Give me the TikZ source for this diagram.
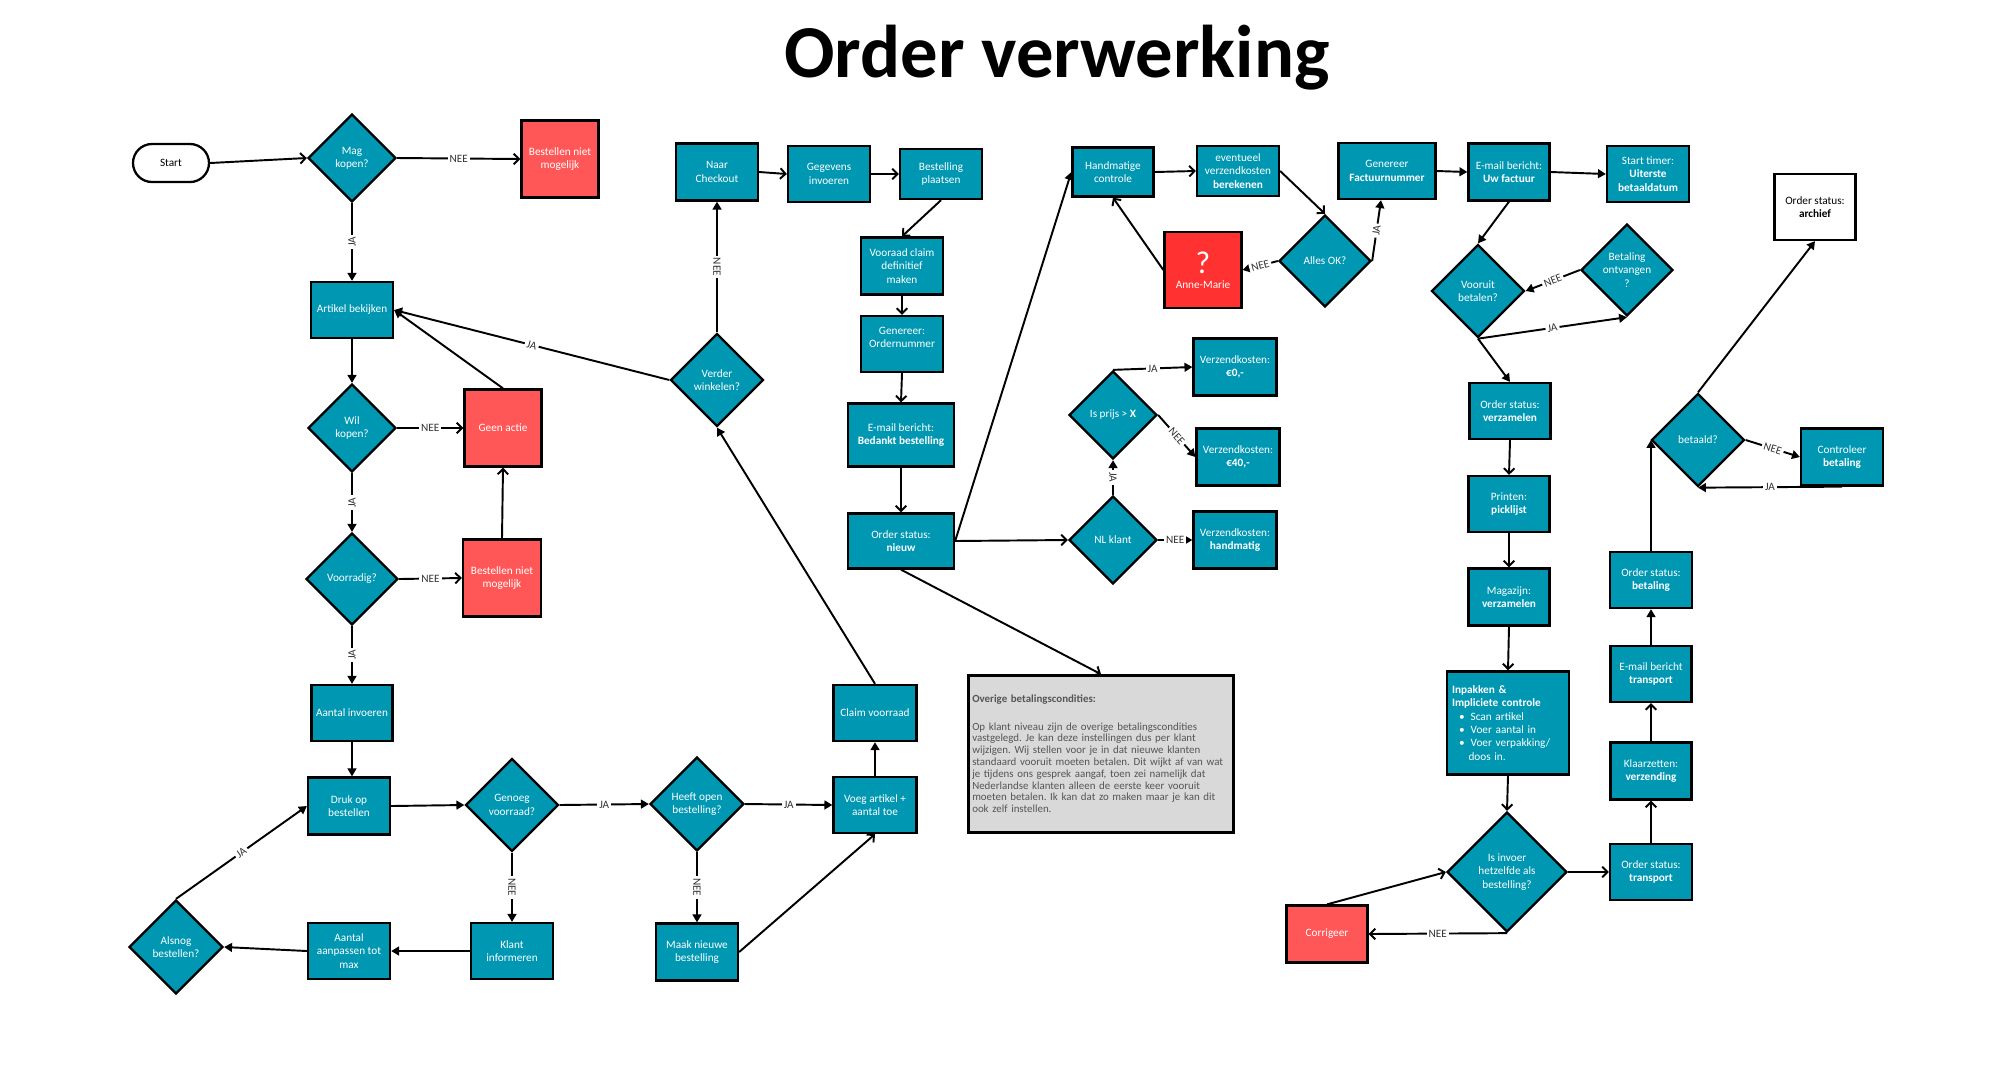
\documentclass[tikz,border=0pt]{standalone}
\usepackage{fontspec}
\setmainfont{Carlito}
\usetikzlibrary{shapes.geometric,arrows.meta}
\definecolor{flowteal}{RGB}{0,151,178}
\definecolor{flowred}{RGB}{255,87,87}
\definecolor{alertred}{RGB}{255,49,49}
\definecolor{notegray}{RGB}{217,217,217}
\definecolor{notetext}{RGB}{85,85,85}
\newcommand{\boxfont}{\fontsize{6.4}{7.6}\selectfont}
\frenchspacing
\tikzset{
  proc/.style={draw, line width=1.3pt, fill=flowteal, text=white, align=center, inner sep=1pt, font=\boxfont},
  nogo/.style={proc, fill=flowred},
  decision/.style={diamond, draw, line width=1.3pt, fill=flowteal, text=white, align=center, inner sep=0pt, font=\boxfont},
  sz/.style 2 args={minimum width=#1*0.2mm, minimum height=#2*0.2mm},
  dsz/.style={minimum width=#1*0.2mm, minimum height=#1*0.2mm},
  lbl/.style={fill=white, inner sep=1.2pt, text=black!80, font=\boxfont},
  arr/.style={line width=1.1pt, -{Triangle[length=4.5pt,width=5pt]}},
  barb/.style={line width=1.1pt, -{Straight Barb[length=3pt,width=6pt]}},
}

\begin{document}
\begin{tikzpicture}[x=0.2mm, y=-0.2mm]
\fill[white] (0,0) rectangle (2000,1073);
\useasboundingbox (0,0) rectangle (2000,1073);

\node[font=\fontsize{42.5}{42.5}\selectfont\bfseries, anchor=base] (title) at (1057,77) {Order verwerking};

% klant kant
\node[draw, line width=1.3pt, rounded corners=3.8mm, sz={76}{38}, font=\boxfont] (start) at (171,163) {Start};
\node[decision, dsz=88] (mag) at (352,158) {Mag\\kopen?};
\node[nogo, sz={77}{77}] (nietA) at (560,159) {Bestellen niet\\mogelijk};
\node[proc, sz={82}{56}] (artikel) at (352,310) {Artikel bekijken};
\node[decision, dsz=88] (wil) at (352,428) {Wil\\kopen?};
\node[nogo, sz={77}{77}] (geen) at (503,428) {Geen actie};
\node[decision, dsz=92] (voorradig) at (352,579) {Voorradig?};
\node[nogo, sz={78}{77}] (nietB) at (502,578) {Bestellen niet\\mogelijk};
\node[proc, sz={81}{56}] (aantal) at (352,713) {Aantal invoeren};
\node[proc, sz={82}{57}] (druk) at (349,806) {Druk op\\bestellen};
\node[decision, dsz=93] (genoeg) at (512,805) {Genoeg\\voorraad?};
\node[proc, sz={82}{56}] (klant) at (512,951) {Klant\\informeren};
\node[proc, sz={82}{56}] (aanpassen) at (349,951) {Aantal\\aanpassen tot\\max};
\node[decision, dsz=94] (alsnog) at (176,947) {Alsnog\\bestellen?};
\node[decision, dsz=94] (heeft) at (697,804) {Heeft open\\bestelling?};
\node[proc, sz={83}{56}] (voeg) at (875,805) {Voeg artikel +\\aantal toe};
\node[proc, sz={83}{56}] (claim) at (875,713) {Claim voorraad};
\node[proc, sz={82}{57}] (maak) at (697,952) {Maak nieuwe\\bestelling};
\node[decision, dsz=93] (verder) at (717,380) {Verder\\winkelen?};

% checkout
\node[proc, sz={82}{57}] (checkout) at (717,172) {Naar\\Checkout};
\node[proc, sz={82}{56}] (gegevens) at (829,174) {Gegevens\\invoeren};
\node[proc, sz={82}{50}] (plaatsen) at (941,174) {Bestelling\\plaatsen};
\node[proc, sz={82}{57}] (claimdef) at (902,266) {Vooraad claim\\definitief\\maken};
\node[proc, sz={82}{56}] (ordernr) at (902,344) {Genereer:\\Ordernummer\\\mbox{}};
\node[proc, sz={106}{63}] (bedankt) at (901,435) {E-mail bericht:\\\textbf{Bedankt bestelling}};
\node[proc, sz={106}{55}] (nieuw) at (901,541) {Order status:\\\textbf{nieuw}};
\node[draw, line width=1.5pt, fill=notegray, text=notetext, sz={265}{157}, text width=5.15cm, inner sep=0pt, align=left, font=\fontsize{6.2}{6.7}\selectfont] (overige) at (1101,754)
  {\textbf{Overige betalingscondities:}\\[8.8pt]
   Op klant niveau zijn de overige betalingscondities\\
   vastgelegd. Je kan deze instellingen dus per klant\\
   wijzigen. Wij stellen voor je in dat nieuwe klanten\\
   standaard vooruit moeten betalen. Dit wijkt af van wat\\
   je tijdens ons gesprek aangaf, toen zei namelijk dat\\
   Nederlandse klanten alleen de eerste keer vooruit\\
   moeten betalen. Ik kan dat zo maken maar je kan dit\\
   ook zelf instellen.};

% verzendkosten
\node[proc, sz={81}{49}] (handmatig) at (1113,172) {Handmatige\\controle};
\node[proc, sz={82}{50}] (berekenen) at (1238,171) {eventueel\\verzendkosten\\\textbf{berekenen}};
\node[proc, fill=alertred, sz={77}{76}] (anne) at (1203,270) {{\fontsize{18}{18}\selectfont ?}\\[1pt]Anne-Marie};
\node[decision, dsz=92] (allesok) at (1325,261) {Alles OK?};
\node[decision, dsz=88] (prijs) at (1113,415) {Is prijs > \textbf{X}};
\node[decision, dsz=88] (nlklant) at (1113,540) {NL klant};
\node[proc, sz={83}{57}] (kost0) at (1235,367) {Verzendkosten:\\\textbf{€0,-}};
\node[proc, sz={83}{57}] (kost40) at (1238,457) {Verzendkosten:\\\textbf{€40,-}};
\node[proc, sz={83}{57}] (kosthand) at (1235,540) {Verzendkosten:\\\textbf{handmatig}};

% factuur en betaling
\node[proc, sz={97}{56}] (factuurnr) at (1387,171) {Genereer\\\textbf{Factuurnummer}};
\node[proc, sz={81}{57}] (uwfactuur) at (1509,172) {E-mail bericht:\\\textbf{Uw factuur}};
\node[proc, sz={82}{56}] (timer) at (1648,174) {Start timer:\\\textbf{Uiterste}\\\textbf{betaaldatum}};
\node[decision, dsz=93] (vooruit) at (1478,291) {Vooruit\\betalen?};
\node[decision, dsz=92] (ontvangen) at (1627,270) {Betaling\\ontvangen\\?};

% magazijn
\node[proc, sz={81}{56}] (verzamelen) at (1510,411) {Order status:\\\textbf{verzamelen}};
\node[proc, sz={81}{56}] (picklijst) at (1509,504) {Printen:\\\textbf{picklijst}};
\node[proc, sz={81}{57}] (magazijn) at (1509,597) {Magazijn:\\\textbf{verzamelen}};
\node[proc, sz={122}{103}, text width=2.24cm, align=left] (inpakken) at (1508,723)
  {\textbf{Inpakken \&}\\
   \textbf{Impliciete controle}\\
   \hspace*{1.4mm}\textbullet\hspace{1.2mm}Scan artikel\\
   \hspace*{1.4mm}\textbullet\hspace{1.2mm}Voer aantal in\\
   \hspace*{1.4mm}\textbullet\hspace{1.2mm}Voer verpakking/\\
   \hspace*{3.3mm}doos in.};
\node[decision, dsz=120] (invoer) at (1507,872) {Is invoer\\hetzelfde als\\bestelling?};
\node[nogo, sz={81}{57}] (corrigeer) at (1327,934) {Corrigeer};
\node[proc, sz={82}{56}] (transport) at (1651,872) {Order status:\\\textbf{transport}};
\node[proc, sz={81}{57}] (klaarzetten) at (1651,771) {Klaarzetten:\\\textbf{verzending}};
\node[proc, sz={81}{56}] (emailtr) at (1651,674) {E-mail bericht\\\textbf{transport}};
\node[proc, sz={82}{56}] (betaling) at (1651,580) {Order status:\\\textbf{betaling}};
\node[decision, dsz=93] (betaald) at (1698,440) {betaald?};
\node[proc, sz={82}{57}] (controleer) at (1842,457) {Controleer\\\textbf{betaling}};
\node[proc, fill=white, text=black, sz={81}{66}] (archief) at (1815,207) {Order status:\\\textbf{archief}};

% verbindingen
\draw[barb] (start.east) -- (mag.west);
\draw[barb] (mag.east) -- node[lbl] {NEE} (nietA.west);
\draw[arr] (mag.south) -- node[lbl, rotate=90] {JA} (artikel.north);
\draw[arr] (artikel.south) -- (wil.north);
\draw[arr] (geen.north) -- (artikel.east);
\draw[arr] (verder.west) -- node[lbl, sloped] {JA} (artikel.east);
\draw[barb] (wil.east) -- node[lbl] {NEE} (geen.west);
\draw[arr] (wil.south) -- node[lbl, rotate=90] {JA} (voorradig.north);
\draw[barb] (voorradig.east) -- node[lbl] {NEE} (nietB.west);
\draw[barb] (nietB.north) -- (geen.south);
\draw[arr] (voorradig.south) -- node[lbl, rotate=90] {JA} (aantal.north);
\draw[arr] (aantal.south) -- (aantal.south |- druk.north);
\draw[arr] (druk.east) -- (genoeg.west);
\draw[arr] (genoeg.east) -- node[lbl] {JA} (heeft.west);
\draw[arr] (genoeg.south) -- node[lbl, rotate=-90] {NEE} (klant.north);
\draw[arr] (klant.west) -- (aanpassen.east);
\draw[arr] (aanpassen.west) -- (alsnog.east);
\draw[arr] (alsnog.north) -- node[lbl, sloped] {JA} (druk.west);
\draw[arr] (heeft.east) -- node[lbl] {JA} (voeg.west);
\draw[arr] (heeft.south) -- node[lbl, rotate=-90] {NEE} (maak.north);
\draw[barb] (maak.east) -- (voeg.south);
\draw[arr] (voeg.north) -- (claim.south);
\draw[arr] (claim.north) -- (verder.south);
\draw[arr] (verder.north) -- node[lbl, rotate=-90] {NEE} (checkout.south);
\draw[barb] (checkout.east) -- (gegevens.west);
\draw[barb] (gegevens.east) -- (plaatsen.west);
\draw[barb] (plaatsen.south) -- (claimdef.north);
\draw[barb] (claimdef.south) -- (ordernr.north);
\draw[barb] (ordernr.south) -- (bedankt.north);
\draw[barb] (bedankt.south) -- (nieuw.north);
\draw[arr] (nieuw.east) -- (handmatig.west);
\draw[barb] (nieuw.east) -- (nlklant.west);
\draw[barb] (nieuw.south) -- (overige.north);
\draw[barb] (handmatig.east) -- (berekenen.west);
\draw[barb] (berekenen.east) -- (allesok.north);
\draw[arr] (allesok.west) -- node[lbl, sloped] {NEE} (anne.east);
\draw[barb] (anne.west) -- (handmatig.south);
\draw[arr] (allesok.east) -- node[lbl, sloped] {JA} ([xshift=-1.2mm]factuurnr.south);
\draw[arr] (nlklant.north) -- node[lbl, rotate=-90] {JA} (prijs.south);
\draw[arr] (nlklant.east) -- node[lbl] {NEE} (kosthand.west);
\draw[arr] (prijs.north) -- node[lbl] {JA} (kost0.west);
\draw[arr] (prijs.east) -- node[lbl, sloped] {NEE} (kost40.west);
\draw[arr] (factuurnr.east) -- (uwfactuur.west);
\draw[arr] (uwfactuur.east) -- (timer.west);
\draw[arr] (uwfactuur.south) -- (vooruit.north);
\draw[arr] (ontvangen.west) -- node[lbl, sloped] {NEE} (vooruit.east);
\draw[arr] (vooruit.south) -- node[lbl, sloped] {JA} (ontvangen.south);
\draw[arr] (vooruit.south) -- (verzamelen.north);
\draw[barb] (verzamelen.south) -- (picklijst.north);
\draw[barb] (picklijst.south) -- (magazijn.north);
\draw[barb] (magazijn.south) -- (inpakken.north);
\draw[barb] (inpakken.south) -- (invoer.north);
\draw[barb] (invoer.east) -- (transport.west);
\draw[barb] (invoer.south) -- node[lbl] {NEE} (corrigeer.east);
\draw[barb] (corrigeer.north) -- (invoer.west);
\draw[barb] (transport.north) -- (klaarzetten.south);
\draw[barb] (klaarzetten.north) -- (emailtr.south);
\draw[arr] (emailtr.north) -- (betaling.south);
\draw[arr] (betaling.north) -- (betaling.north |- betaald.west);
\draw[arr] (betaald.north) -- (archief.south);
\draw[arr] (betaald.east) -- node[lbl, sloped] {NEE} (controleer.west);
\draw[arr] (controleer.south) -- node[lbl] {JA} (betaald.south);
\end{tikzpicture}
\end{document}
